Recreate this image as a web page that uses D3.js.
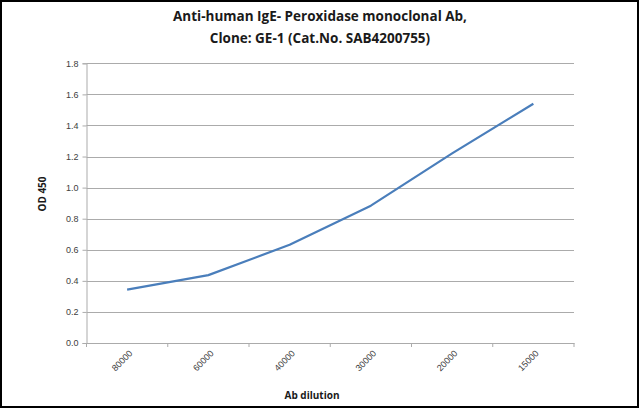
<!DOCTYPE html>
<html>
<head>
<meta charset="utf-8">
<script src="https://cdn.jsdelivr.net/npm/d3@7/dist/d3.min.js"></script>
<style>
  html, body { margin: 0; padding: 0; background: #fff; }
  svg { display: block; }
</style>
</head>
<body>
<svg id="chart" width="640" height="409"></svg>
<script>
const categories = ["80000", "60000", "40000", "30000", "20000", "15000"];
const odValues = [0.344, 0.437, 0.632, 0.884, 1.22, 1.54];
const yTicks = [0, 0.2, 0.4, 0.6, 0.8, 1.0, 1.2, 1.4, 1.6, 1.8];
const titleLines = ["Anti-human IgE- Peroxidase monoclonal Ab,", "Clone: GE-1 (Cat.No. SAB4200755)"];
const xTitle = "Ab dilution";
const yTitle = "OD 450";

const W = 640, H = 409;
const m = { left: 86.5, right: 574, top: 63.3, bottom: 343 };
const svg = d3.select("#chart");

// outer frame
svg.append("rect").attr("x", 1).attr("y", 1).attr("width", W - 3).attr("height", H - 3)
  .attr("fill", "#fff").attr("stroke", "#000").attr("stroke-width", 2);

const x = d3.scaleBand().domain(categories).range([m.left, m.right]).padding(0);
const y = d3.scaleLinear().domain([0, 1.8]).range([m.bottom, m.top]);

const gridColor = "#ababab";
const labelFont = "'Liberation Sans', Arial, sans-serif";
const titleFont = "'Open Sans', 'Liberation Sans', sans-serif";

// gridlines
svg.append("g").selectAll("line").data(yTicks.filter(d => d > 0)).join("line")
  .attr("x1", m.left).attr("x2", m.right)
  .attr("y1", d => Math.round(y(d)) + 0.5).attr("y2", d => Math.round(y(d)) + 0.5)
  .attr("stroke", gridColor).attr("stroke-width", 1);

// y axis
const yAxis = svg.append("g").attr("transform", `translate(${m.left},0)`)
  .call(d3.axisLeft(y).tickValues(yTicks).tickFormat(d3.format(".1f")).tickSize(4).tickPadding(4));
yAxis.select(".domain").attr("stroke", gridColor);
yAxis.selectAll(".tick line").attr("stroke", gridColor);
yAxis.selectAll("text").attr("font-family", labelFont).attr("font-size", 9).attr("fill", "#404040");

// x axis
const xAxis = svg.append("g").attr("transform", `translate(0,${m.bottom})`)
  .call(d3.axisBottom(x).tickSize(0).tickFormat(""));
xAxis.select(".domain").attr("stroke", gridColor);
const bounds = categories.map(c => x(c)).concat([x(categories[categories.length - 1]) + x.bandwidth()]);
xAxis.append("g").selectAll("line").data(bounds).join("line")
  .attr("x1", d => d).attr("x2", d => d).attr("y1", 0).attr("y2", 4)
  .attr("stroke", gridColor);
svg.append("g").selectAll("text").data(categories).join("text")
  .attr("transform", d => `translate(${x(d) + x.bandwidth() / 2 + 6},${m.bottom + 11}) rotate(-45)`)
  .attr("text-anchor", "end")
  .attr("font-family", labelFont).attr("font-size", 9).attr("fill", "#404040")
  .text(d => d);

// line
const line = d3.line().x((d, i) => x(categories[i]) + x.bandwidth() / 2).y(d => y(d));
svg.append("path").datum(odValues).attr("d", line)
  .attr("fill", "none").attr("stroke", "#4a7ebb").attr("stroke-width", 2.2)
  .attr("stroke-linejoin", "round");

// titles
svg.append("g").selectAll("text").data(titleLines).join("text")
  .attr("x", 320).attr("y", (d, i) => 21 + i * 21.5)
  .attr("text-anchor", "middle").attr("font-family", titleFont)
  .attr("font-weight", "bold").attr("font-size", 13.5).attr("fill", "#1a1a1a")
  .text(d => d);

svg.append("text").attr("x", 312).attr("y", 399)
  .attr("text-anchor", "middle").attr("font-family", titleFont)
  .attr("font-weight", "bold").attr("font-size", 10).attr("fill", "#1a1a1a")
  .text(xTitle);

svg.append("text").attr("transform", "translate(46,194) rotate(-90)")
  .attr("text-anchor", "middle").attr("font-family", titleFont)
  .attr("font-weight", "bold").attr("font-size", 10).attr("fill", "#1a1a1a")
  .text(yTitle);
</script>
</body>
</html>
